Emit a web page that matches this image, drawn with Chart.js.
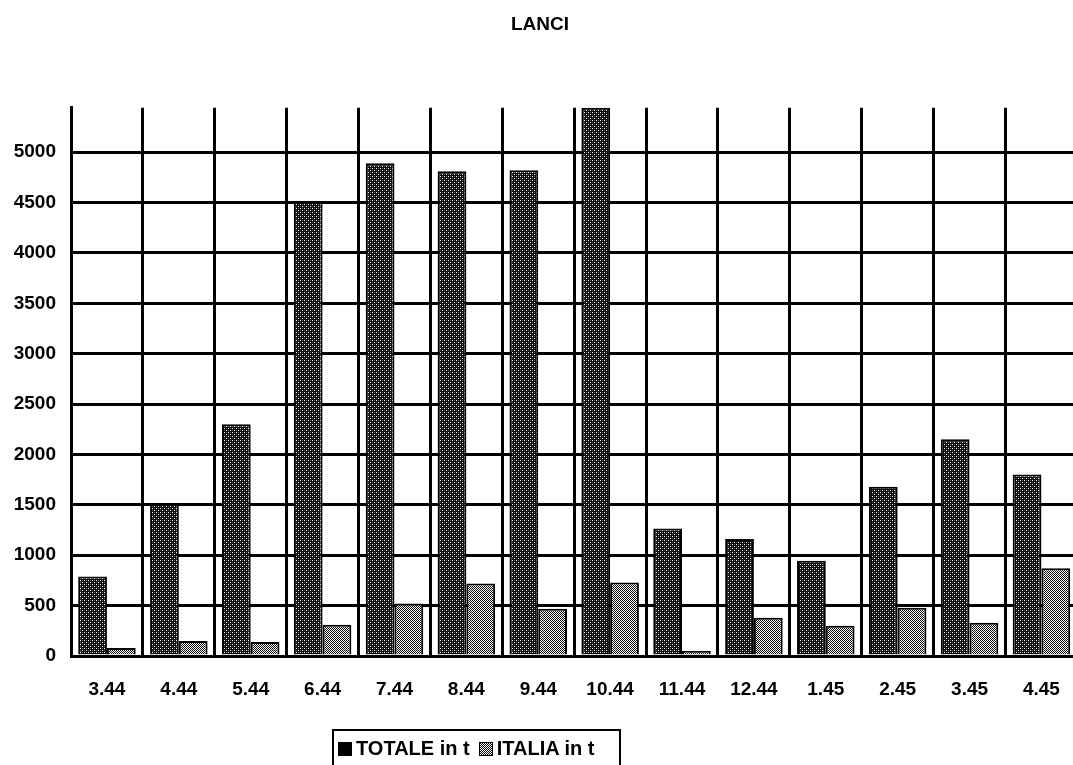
<!DOCTYPE html>
<html>
<head>
<meta charset="utf-8">
<script src="https://cdn.jsdelivr.net/npm/chart.js@4.4.1/dist/chart.umd.min.js"></script>
<style>
  html, body { margin: 0; padding: 0; background: #fff; overflow: hidden; }
  #wrap { position: relative; width: 1082px; height: 765px; }
  #legend {
    position: absolute; left: 332px; top: 729px; width: 289px; height: 50px;
    border: 2px solid #000; border-bottom: none; box-sizing: border-box;
    font: bold 20px "Liberation Sans", Arial, sans-serif; color: #000;
    padding: 6px 0 0 4px; white-space: nowrap;
  }
  #legend .item { display: inline-flex; align-items: center; margin-right: 9px; }
  #legend .sw { display: inline-block; width: 12px; height: 12px; margin-right: 4px; border: 1px solid #000; }
</style>
</head>
<body>
<div id="wrap">
  <canvas id="chart" width="1082" height="765"></canvas>
  <div id="legend"></div>
</div>
<script>
const labels = ['3.44', '4.44', '5.44', '6.44', '7.44', '8.44', '9.44', '10.44', '11.44', '12.44', '1.45', '2.45', '3.45', '4.45'];
const totale = [790, 1510, 2300, 4510, 4890, 4810, 4820, 5440, 1265, 1160, 945, 1680, 2150, 1800];
const italia = [80, 150, 140, 310, 520, 720, 470, 730, 50, 380, 300, 480, 330, 870];
const yTicks = [0, 500, 1000, 1500, 2000, 2500, 3000, 3500, 4000, 4500, 5000];

// small dither patterns like the printed halftone
function makePattern(size, bg, dots) {
  const c = document.createElement('canvas');
  c.width = size; c.height = size;
  const g = c.getContext('2d');
  g.fillStyle = bg;
  g.fillRect(0, 0, size, size);
  dots.forEach(([x, y, col]) => { g.fillStyle = col; g.fillRect(x, y, 1, 1); });
  return c;
}

const darkTile = makePattern(4, '#0a0a0a', [[0, 0, '#fff'], [2, 2, '#fff'], [2, 0, '#666'], [0, 2, '#555']]);
const lightTile = makePattern(2, '#fff', [[0, 0, '#000'], [1, 1, '#111']]);

const ctx = document.getElementById('chart').getContext('2d');
const darkFill = ctx.createPattern(darkTile, 'repeat');
const lightFill = ctx.createPattern(lightTile, 'repeat');

const font = { family: '"Liberation Sans", Arial, sans-serif', weight: 'bold', size: 19 };

const chart = new Chart(ctx, {
  type: 'bar',
  data: {
    labels: labels,
    datasets: [
      {
        label: 'TOTALE in t',
        data: totale,
        backgroundColor: darkFill,
        borderColor: '#000',
        borderWidth: 2,
        categoryPercentage: 0.8,
        barPercentage: 1.0
      },
      {
        label: 'ITALIA in t',
        data: italia,
        backgroundColor: lightFill,
        borderColor: '#000',
        borderWidth: 2,
        categoryPercentage: 0.8,
        barPercentage: 1.0
      }
    ]
  },
  options: {
    responsive: false,
    animation: false,
    layout: { padding: { left: 0, right: 2, top: 0, bottom: 0 } },
    plugins: {
      legend: { display: false },
      tooltip: { enabled: false },
      title: {
        display: true,
        text: 'LANCI',
        color: '#000',
        font: font,
        padding: { top: 13, bottom: 72 }
      }
    },
    scales: {
      x: {
        grid: { color: '#000', lineWidth: 3, drawTicks: false, offset: true },
        border: { display: true, color: '#000', width: 3 },
        ticks: { color: '#000', font: font, padding: 22, maxRotation: 0, autoSkip: false },
        afterFit: (scale) => { scale.height = 109; }
      },
      y: {
        min: 0,
        max: 5440,
        grid: { color: '#000', lineWidth: 3, drawTicks: false },
        border: { display: true, color: '#000', width: 3 },
        ticks: { color: '#000', font: font, padding: 15, stepSize: 500, callback: (v) => String(v) },
        afterBuildTicks: (scale) => { scale.ticks = yTicks.map(v => ({ value: v })); },
        afterFit: (scale) => { scale.width = 71; }
      }
    }
  }
});

// legend as html, built from the datasets
const legendEl = document.getElementById('legend');
const tiles = [darkTile, lightTile];
chart.data.datasets.forEach((ds, i) => {
  const item = document.createElement('span');
  item.className = 'item';
  const sw = document.createElement('span');
  sw.className = 'sw';
  sw.style.background = i === 0 ? '#000' : 'url(' + tiles[i].toDataURL() + ')';
  const txt = document.createElement('span');
  txt.textContent = ds.label;
  item.appendChild(sw);
  item.appendChild(txt);
  legendEl.appendChild(item);
});
</script>
</body>
</html>
